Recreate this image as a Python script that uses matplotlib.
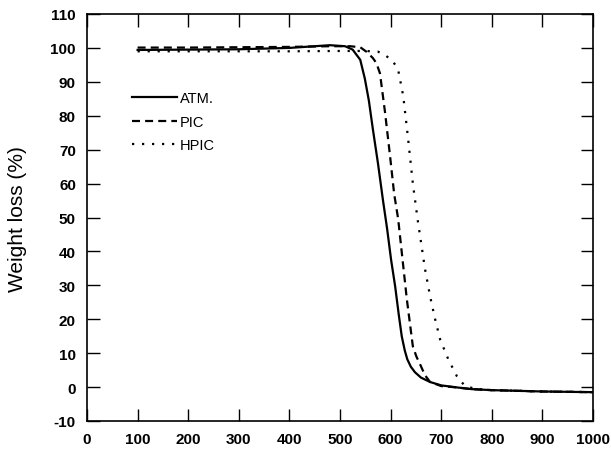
import matplotlib
matplotlib.use("Agg")
import matplotlib.pyplot as plt

# Data (temperature, weight %)
atm_x = [100, 200, 300, 400, 450, 480, 510, 525, 540, 549, 557, 565, 575, 585,
         593, 601, 609, 616, 622, 628, 633, 640, 648, 660, 678, 700, 731, 760,
         800, 850, 900, 950, 1000]
atm_y = [99.4, 99.5, 99.6, 100.0, 100.5, 100.8, 100.5, 99.5, 96.5, 91.0, 84.5,
         76.0, 66.0, 55.0, 46.8, 37.5, 29.7, 21.5, 15.0, 10.8, 8.2, 6.0, 4.4,
         2.8, 1.5, 0.5, -0.1, -0.6, -0.9, -1.1, -1.3, -1.4, -1.5]

pic_x = [100, 200, 300, 400, 480, 520, 540, 553, 565, 572, 579, 589, 599, 607,
         615, 622, 632, 644, 651, 658, 668, 678, 700, 731, 760, 800, 850, 900,
         950, 1000]
pic_y = [100.1, 100.1, 100.2, 100.3, 100.5, 100.5, 100.2, 98.8, 97.0, 95.5,
         92.5, 81.0, 68.0, 57.0, 49.5, 39.8, 26.0, 12.0, 9.0, 6.8, 3.5, 1.5,
         0.3, -0.1, -0.6, -0.9, -1.1, -1.3, -1.4, -1.5]

hpic_x = [100, 200, 300, 400, 500, 550, 575, 590, 605, 615, 625, 634, 644, 654,
          668, 678, 688, 698, 714, 731, 747, 770, 800, 850, 900, 950, 1000]
hpic_y = [99.0, 99.0, 99.0, 99.0, 99.1, 99.1, 98.9, 97.8, 96.0, 93.5, 85.8,
          74.0, 60.0, 48.8, 34.8, 26.8, 20.0, 14.0, 8.2, 3.2, 0.3, -0.6, -0.9,
          -1.1, -1.3, -1.4, -1.5]

labels = ["ATM.", "PIC", "HPIC"]
x_ticks = list(range(0, 1001, 100))
y_ticks = list(range(-10, 111, 10))
y_label = "Weight loss (%)"

plt.rcParams['font.family'] = ['Liberation Sans', 'DejaVu Sans']

fig = plt.figure(figsize=(6.11, 4.56), dpi=100)
ax = fig.add_axes([87/611, 34/456, 506/611, 407/456])

ax.plot(atm_x, atm_y, color='black', lw=1.6, linestyle='-', label=labels[0])
ax.plot(pic_x, pic_y, color='black', lw=1.6, linestyle=(0, (3.6, 2.3)), label=labels[1])
ax.plot(hpic_x, hpic_y, color='black', lw=1.6, linestyle=(0, (1, 3.5)), label=labels[2])

ax.set_xlim(0, 1000)
ax.set_ylim(-10, 110)
ax.set_xticks(x_ticks)
ax.set_yticks(y_ticks)
ax.set_xticklabels([str(v) for v in x_ticks], fontweight='bold', fontsize=11)
ax.set_yticklabels([str(v) for v in y_ticks], fontweight='bold', fontsize=11)
ax.tick_params(axis='x', direction='in', length=9, width=1, top=True, pad=8)
ax.tick_params(axis='y', direction='in', length=9, width=1, right=True, pad=8)
for s in ax.spines.values():
    s.set_linewidth(1.2)

fig.text(18/611, 1 - 219/456, y_label, rotation=90, ha='center', va='center',
         fontsize=15)

leg = ax.legend(loc='upper left', bbox_to_anchor=(0.089, 0.81), frameon=False,
                fontsize=10.5, handlelength=3.1, handletextpad=0.2,
                labelspacing=0.65, borderpad=0, borderaxespad=0)

fig.savefig("out.png", dpi=100)
